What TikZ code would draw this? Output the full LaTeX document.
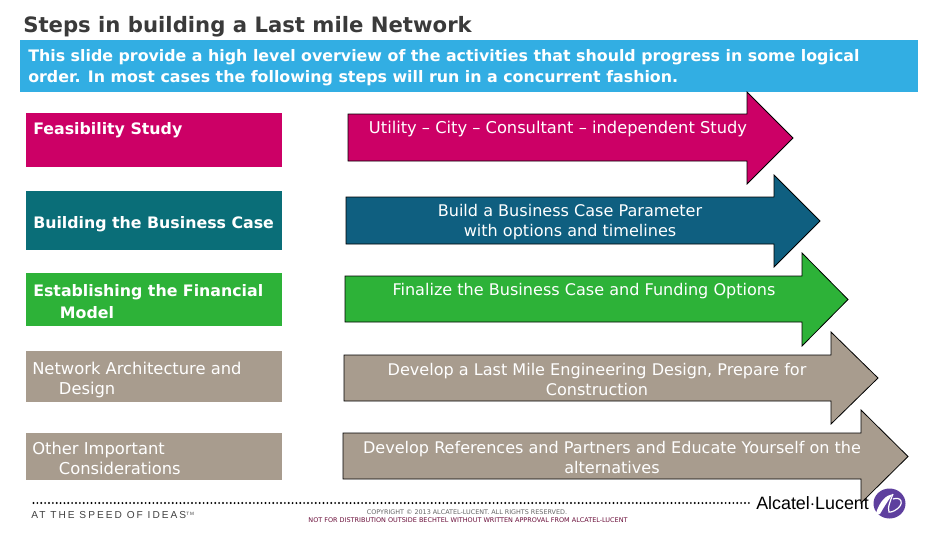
\documentclass[tikz,border=0pt]{standalone}
\usepackage{fontspec}
\setmainfont{DejaVu Sans}
\newfontfamily\logofont{Liberation Sans}
\newfontfamily\speedfont[LetterSpace=20]{Liberation Sans}
\definecolor{mag}{HTML}{CC0066}
\definecolor{tealb}{HTML}{0A6E78}
\definecolor{bluea}{HTML}{0F5F80}
\definecolor{grn}{HTML}{2DB238}
\definecolor{taup}{HTML}{A89C8E}
\definecolor{sky}{HTML}{32AEE3}
\definecolor{ttl}{HTML}{3A3A3A}
\definecolor{foot}{HTML}{6B0F3A}
\definecolor{purp}{HTML}{5E3F9E}
\tikzset{
  x=0.75pt,y=-0.75pt,
  ltext/.style={anchor=west,inner sep=0pt,text=white,font=\fontsize{11.85}{16}\selectfont\bfseries,align=left},
  ltextn/.style={anchor=west,inner sep=0pt,text=white,font=\fontsize{12.25}{14.8}\selectfont,align=left},
  atext/.style={anchor=center,inner sep=0pt,text=white,font=\fontsize{12.05}{14.4}\selectfont,align=center},
  arrowshape/.style={draw=black,line width=0.6pt},
}
\newcommand{\bigarrow}[8]{% x0 ytop ybot xbase headtop headbot tip colour
  \draw[arrowshape,fill=#8] (#1,#2) -- (#4,#2) -- (#4,#5) -- (#7,{(#5+#6)/2}) -- (#4,#6) -- (#4,#3) -- (#1,#3) -- cycle;}
\begin{document}
\begin{tikzpicture}
\useasboundingbox (0,0) rectangle (936,540);
\fill[white] (0,0) rectangle (936,540);
\node[anchor=west,inner sep=0pt,text=ttl,font=\fontsize{15.9}{18}\selectfont\bfseries] (title) at (23,27) {Steps in building a Last mile Network};
\fill[sky] (20,40) rectangle (918,92);
\node[anchor=north west,inner sep=0pt,text=white,font=\fontsize{11.88}{15.8}\selectfont\bfseries,align=left] (intro) at (28,49.5) {This slide provide a high level overview of the activities that should progress in some logical\\order. In most cases the following steps will run in a concurrent fashion.};
% left boxes
\fill[mag] (26,113) rectangle (282,167);
\fill[tealb] (26,191) rectangle (282,250);
\fill[grn] (26,273) rectangle (282,326);
\fill[taup] (26,351) rectangle (282,402);
\fill[taup] (26,433) rectangle (282,480);
\node[ltext] (l1) at (33,130) {Feasibility Study};
\node[ltext] (l2) at (33,224) {Building the Business Case};
\node[ltext] (l3) at (33,301.5) {Establishing the Financial\\\hspace*{20pt}Model};
\node[ltextn] (l4) at (32,380) {Network Architecture and\\\hspace*{20pt}Design};
\node[ltextn] (l5) at (32,458.5) {Other Important\\\hspace*{20pt}Considerations};
% footer
\draw[line width=1.6pt,line cap=round,dash pattern=on 0pt off 2.9pt] (33.5,503) -- (750,503);
\node[anchor=west,inner sep=0pt,text=black!75,font=\speedfont\fontsize{7.6}{8}\selectfont] (speed) at (31,515) {AT THE SPEED OF IDEAS\raisebox{2pt}{\fontsize{3.5}{4}\selectfont TM}};
\node[anchor=center,inner sep=0pt,text=black!60,font=\fontsize{4.8}{6}\selectfont] (copy) at (467,512.5) {COPYRIGHT © 2013 ALCATEL-LUCENT. ALL RIGHTS RESERVED.};
\node[anchor=center,inner sep=0pt,text=foot,font=\fontsize{4.85}{6}\selectfont] (dist) at (468,520.5) {NOT FOR DISTRIBUTION OUTSIDE BECHTEL WITHOUT WRITTEN APPROVAL FROM ALCATEL-LUCENT};
\node[anchor=west,inner sep=0pt,text=black,font=\logofont\fontsize{13.4}{14}\selectfont] (logo) at (756,503) {Alcatel$\cdot$Lucent};
\fill[purp] (889.5,503.5) ellipse (16 and 15);
\fill[white] (876,513) .. controls (880,501) and (886,495) .. (893,494) .. controls (889,499) and (884,507) .. (880,514) .. controls (878,515) and (876,515) .. (876,513) -- cycle;
\draw[white,line width=0.9pt] (893,494) .. controls (891,499) and (887,508) .. (889,512) .. controls (892,513) and (903,507) .. (901,501) .. controls (900,498) and (896,498) .. (893,499);
% arrows
\bigarrow{348}{114}{161}{747}{92}{184}{793}{mag}
\bigarrow{346}{197}{244}{774}{175}{267}{820}{bluea}
\bigarrow{345}{276}{322}{802}{253}{346}{848}{grn}
\bigarrow{344}{355}{401}{831}{332}{424}{878}{taup}
\bigarrow{343}{433}{479}{861}{410}{503}{908}{taup}
\node[atext,font=\fontsize{12.2}{14.4}\selectfont] (a1) at (558,129) {Utility – City – Consultant – independent Study};
\node[atext] (a2) at (570,222) {Build a Business Case Parameter\\with options and timelines};
\node[atext] (a3) at (584,291.5) {Finalize the Business Case and Funding Options};
\node[atext] (a4) at (597,379.5) {Develop a Last Mile Engineering Design, Prepare for\\Construction};
\node[atext] (a5) at (612,457.5) {Develop References and Partners and Educate Yourself on the\\alternatives};
\end{tikzpicture}
\end{document}
